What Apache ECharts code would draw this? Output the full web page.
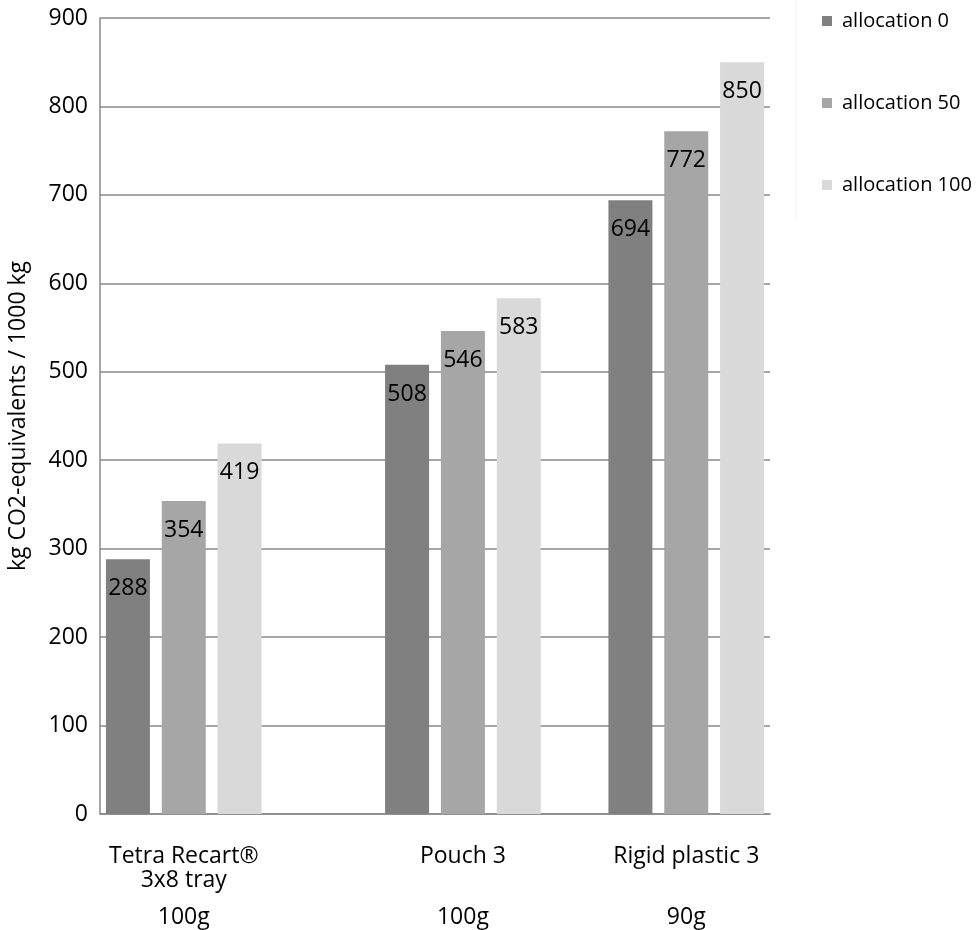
<!DOCTYPE html>
<html>
<head>
<meta charset="utf-8">
<script src="https://cdn.jsdelivr.net/npm/echarts@6/dist/echarts.min.js"></script>
<style>html,body{margin:0;padding:0;background:#fff;}#c{width:976px;height:930px;}</style>
</head>
<body>
<div id="c"></div>
<script>
// ---- data ----
var groupNames = ['Tetra Recart®\n3x8 tray', 'Pouch 3', 'Rigid plastic 3'];
var groupWeights = ['100g', '100g', '90g'];
var seriesNames = ['allocation 0', 'allocation 50', 'allocation 100'];
var alloc0 = [288, 508, 694];
var alloc50 = [354, 546, 772];
var alloc100 = [419, 583, 850];
var yTicks = [0, 100, 200, 300, 400, 500, 600, 700, 800, 900];

// ---- layout (slots on the category axis, like the original's blank columns) ----
var groupStart = [0, 5, 9];
var slotCount = 12;
var slots = [];
for (var i = 0; i < slotCount; i++) slots.push(String(i));
var labelAt = {};
groupStart.forEach(function (s, g) { labelAt[s + 1] = g; });

function emptySlots() {
  var d = [];
  for (var i = 0; i < slotCount; i++) d.push(null);
  return d;
}
var allSeries = [alloc0, alloc50, alloc100];
var colors = ['#808080', '#a6a6a6', '#d9d9d9'];
var FONT = '"Open Sans"';

var series = allSeries.map(function (vals, k) {
  var d = emptySlots();
  vals.forEach(function (v, g) { d[groupStart[g] + k] = v; });
  return {
    name: seriesNames[k],
    type: 'bar',
    data: d,
    barWidth: 44,
    barGap: '-100%',
    itemStyle: { color: colors[k] },
    label: {
      show: true, position: 'insideTop', distance: 18,
      color: '#000', fontSize: 23, fontFamily: FONT
    }
  };
});

var chart = echarts.init(document.getElementById('c'), null, { renderer: 'canvas' });
chart.setOption({
  animation: false,
  backgroundColor: '#fff',
  textStyle: { fontFamily: FONT },
  grid: { left: 100, right: 206, top: 18, bottom: 116, containLabel: false, outerBoundsMode: 'none' },
  legend: {
    orient: 'vertical', left: 817, top: 6, itemGap: 62,
    itemWidth: 10, itemHeight: 10, icon: 'rect',
    textStyle: { fontSize: 20, color: '#000', fontFamily: FONT, padding: [0, 0, 0, 5] },
    data: seriesNames
  },
  graphic: [{
    type: 'line', shape: { x1: 796, y1: 0, x2: 796, y2: 220 },
    style: { stroke: '#f0f0f0', lineWidth: 1 }
  }],
  xAxis: {
    type: 'category', data: slots,
    axisLine: { lineStyle: { color: '#898989', width: 1.5 } },
    axisTick: { show: false },
    axisLabel: {
      interval: 0, margin: 30,
      formatter: function (v, idx) {
        var g = labelAt[idx];
        if (g === undefined) return '';
        var lines = groupNames[g].split('\n');
        return '{a|' + lines[0] + '}\n{a|' + (lines[1] || ' ') + '}\n{b|' + groupWeights[g] + '}';
      },
      rich: {
        a: { fontSize: 23, lineHeight: 24, color: '#000', fontFamily: FONT },
        b: { fontSize: 23, lineHeight: 50, color: '#000', fontFamily: FONT }
      }
    }
  },
  yAxis: {
    type: 'value', min: yTicks[0], max: yTicks[yTicks.length - 1], interval: 100,
    name: 'kg CO2-equivalents / 1000 kg', nameLocation: 'middle', nameGap: 70,
    nameTextStyle: { fontSize: 23, color: '#000', fontFamily: FONT },
    axisLine: { show: true, lineStyle: { color: '#898989', width: 1.5 } },
    axisTick: { show: false },
    splitLine: { lineStyle: { color: '#898989', width: 1.5 } },
    axisLabel: { fontSize: 23, color: '#000', margin: 12, fontFamily: FONT }
  },
  series: series
});
</script>
</body>
</html>
